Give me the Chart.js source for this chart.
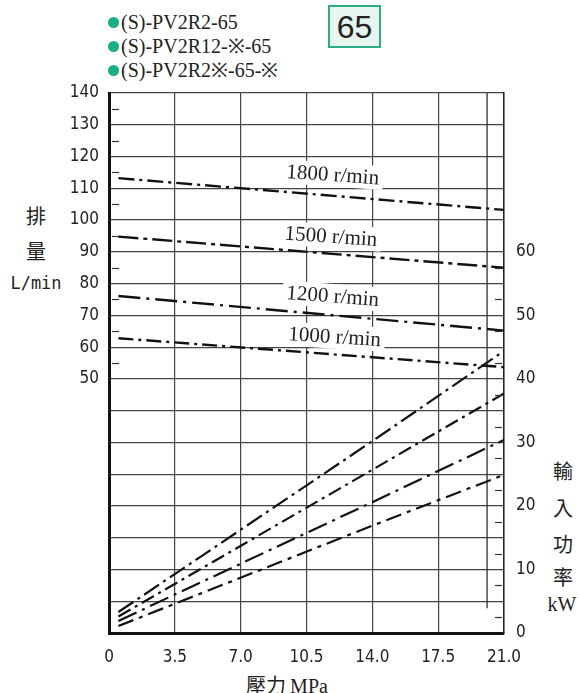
<!DOCTYPE html>
<html lang="zh-Hant">
<head>
  <meta charset="UTF-8">
  <title>PV2R2-65 排量 / 輸入功率</title>
  <script src="https://cdn.jsdelivr.net/npm/chart.js"></script>
  <style>
    body { margin: 0; background: #fff; width: 578px; height: 693px; position: relative; overflow: hidden; }
    canvas { position: absolute; left: 0; top: 0; }
    .t { position: absolute; white-space: nowrap; color: #222; }
    .model { left: 108px; font: 20px 'Liberation Serif', serif; line-height: 24px; }
    .dot { display: inline-block; width: 11px; height: 11px; border-radius: 50%; background: #17b084; margin-right: 2px; vertical-align: 1px; }
    .box { left: 328px; top: 5px; width: 49px; height: 39px; border: 2px solid #2aae88; background: #e7f5ef;
           font: 32px 'Liberation Sans', Arial, sans-serif; text-align: center; line-height: 40px; }
    .cjk { font: 20px 'Noto Sans CJK TC', sans-serif; transform: translate(-50%, -50%); }
    .mono { font: 17px 'DejaVu Sans Mono', monospace; transform: translate(-50%, -50%); }
    .serif { font: 20px 'Liberation Serif', serif; transform: translate(-50%, -50%); }
  </style>
</head>
<body>
  <div class="t model" style="top:10px"><span class="dot"></span>(S)-PV2R2-65</div>
  <div class="t model" style="top:34px"><span class="dot"></span>(S)-PV2R12-※-65</div>
  <div class="t model" style="top:58px"><span class="dot"></span>(S)-PV2R2※-65-※</div>
  <div class="t box">65</div>

  <div class="t cjk" style="left:36px; top:215px">排</div>
  <div class="t cjk" style="left:36px; top:250px">量</div>
  <div class="t mono" style="left:36px; top:283px">L/min</div>

  <div class="t cjk" style="left:563px; top:470px">輸</div>
  <div class="t cjk" style="left:563px; top:507px">入</div>
  <div class="t cjk" style="left:563px; top:543px">功</div>
  <div class="t cjk" style="left:563px; top:576px">率</div>
  <div class="t serif" style="left:562px; top:604px">kW</div>

  <div class="t" style="left:287px; top:684px; transform: translate(-50%, -50%);">
    <span style="font: 20px 'Noto Sans CJK TC', sans-serif">壓力</span>
    <span style="font: 20px 'Liberation Serif', serif">MPa</span>
  </div>

  <canvas id="chart" width="578" height="693"></canvas>

  <script>
    // 排量 (L/min) vs 壓力 (MPa)
    const pressureQ = [0.5, 21];
    const flow1800 = [113.2, 103.2];
    const flow1500 = [94.8, 85.0];
    const flow1200 = [76.1, 65.2];
    const flow1000 = [62.8, 53.7];

    // 輸入功率 (kW) vs 壓力 (MPa)
    const pressureP = [0.5, 14, 21];
    const power1800 = [3.3, 30.2, 44.4];
    const power1500 = [2.6, 25.7, 37.7];
    const power1200 = [1.9, 20.6, 30.4];
    const power1000 = [1.1, 16.9, 24.9];

    // vertical reference line near max pressure (kW axis)
    const limitX = [20.1, 20.1];
    const limitY = [85, 3.9];

    const speedLabels = ['1800 r/min', '1500 r/min', '1200 r/min', '1000 r/min'];
    const xTicks = [0, 3.5, 7, 10.5, 14, 17.5, 21];
    const minorLeft = [55, 65, 75, 85, 95, 105, 115, 125, 135];
    const minorRight = [2.5, 7.5, 12.5, 17.5, 22.5, 27.5, 32.5, 37.5, 42.5, 47.5, 52.5, 57.5];

    const pts = (xs, ys) => xs.map((x, i) => ({ x: x, y: ys[i] }));

    const flowSets = [flow1800, flow1500, flow1200, flow1000];
    const flowDash = [[16, 5, 3, 5], [20, 5, 4, 5], [22, 6, 3, 6], [15, 5, 3, 5]];
    const powerSets = [power1800, power1500, power1200, power1000];
    const powerDash = [[18, 5, 3, 5], [14, 5, 3, 5], [20, 6, 3, 6], [16, 6, 4, 6]];

    const datasets = [];
    flowSets.forEach((d, i) => datasets.push({
      data: pts(pressureQ, d), yAxisID: 'y', borderColor: '#111', borderWidth: 2.4,
      borderDash: flowDash[i], pointRadius: 0, tension: 0
    }));
    powerSets.forEach((d, i) => datasets.push({
      data: pts(pressureP, d), yAxisID: 'y1', borderColor: '#111', borderWidth: 2.2,
      borderDash: powerDash[i], pointRadius: 0, tension: 0
    }));
    datasets.push({
      data: pts(limitX, limitY), yAxisID: 'y1', borderColor: '#333', borderWidth: 1.3,
      pointRadius: 0
    });

    // text anchors for the speed labels, in axis units (MPa, L/min)
    const labelAnchors = [[11.9, 114.3], [11.8, 94.9], [11.9, 76.1], [12.0, 63.3]];

    const decor = {
      id: 'decor',
      beforeDatasetsDraw(chart) {
        const { ctx, scales: { x, y } } = chart;
        ctx.save();
        ctx.font = "21px 'Liberation Serif', serif";
        ctx.textAlign = 'center';
        ctx.textBaseline = 'middle';
        speedLabels.forEach((txt, i) => {
          const f = flowSets[i];
          const ang = Math.atan2(y.getPixelForValue(f[1]) - y.getPixelForValue(f[0]),
                                 x.getPixelForValue(pressureQ[1]) - x.getPixelForValue(pressureQ[0]));
          const px = x.getPixelForValue(labelAnchors[i][0]);
          const py = y.getPixelForValue(labelAnchors[i][1]);
          const w = ctx.measureText(txt).width;
          ctx.save();
          ctx.translate(px, py);
          ctx.rotate(ang * 0.85);
          ctx.fillStyle = '#fff';
          ctx.fillRect(-w / 2 - 4, -12, w + 8, 24);
          ctx.fillStyle = '#222';
          ctx.fillText(txt, 0, 1);
          ctx.restore();
        });
        ctx.restore();
      },
      afterDatasetsDraw(chart) {
        const { ctx, chartArea: a, scales: { y, y1 } } = chart;
        ctx.save();
        ctx.strokeStyle = '#333';
        ctx.lineWidth = 1.2;
        minorLeft.forEach(v => {
          const py = Math.round(y.getPixelForValue(v)) + 0.5;
          ctx.beginPath(); ctx.moveTo(a.left + 3, py); ctx.lineTo(a.left + 10, py); ctx.stroke();
        });
        minorRight.forEach(v => {
          const py = Math.round(y1.getPixelForValue(v)) + 0.5;
          ctx.beginPath(); ctx.moveTo(a.right - 9, py); ctx.lineTo(a.right - 2, py); ctx.stroke();
        });
        ctx.restore();
      }
    };

    const tickFont = { family: "'Liberation Sans Narrow', 'DejaVu Sans Condensed', sans-serif", size: 17 };

    new Chart(document.getElementById('chart'), {
      type: 'line',
      data: { datasets: datasets },
      plugins: [decor],
      options: {
        responsive: false,
        devicePixelRatio: 1,
        animation: false,
        layout: { padding: { left: 59, right: 24, top: 93, bottom: 20 } },
        plugins: { legend: { display: false }, tooltip: { enabled: false } },
        scales: {
          x: {
            type: 'linear', min: 0, max: 21,
            afterBuildTicks: s => { s.ticks = xTicks.map(v => ({ value: v })); },
            afterFit: s => { s.height = 40; },
            ticks: { color: '#222', font: tickFont, padding: 14, maxRotation: 0,
                     callback: v => v === 0 ? '0' : v.toFixed(1) },
            grid: { color: '#444', lineWidth: 1.2, drawTicks: false },
            border: { color: '#111', width: 3 }
          },
          y: {
            position: 'left', min: -30, max: 140,
            afterFit: s => { s.width = 50; },
            ticks: { stepSize: 10, color: '#222', font: tickFont, padding: 10,
                     callback: v => v >= 50 ? String(v) : '' },
            grid: { color: '#444', lineWidth: 1.2, drawTicks: false },
            border: { color: '#111', width: 3 }
          },
          y1: {
            position: 'right', min: 0, max: 85,
            afterFit: s => { s.width = 50; },
            ticks: { stepSize: 10, color: '#222', font: tickFont, padding: 12,
                     callback: v => v <= 60 ? String(v) : '' },
            grid: { drawOnChartArea: false, drawTicks: false },
            border: { color: '#222', width: 1.5 }
          }
        }
      }
    });
  </script>
</body>
</html>
